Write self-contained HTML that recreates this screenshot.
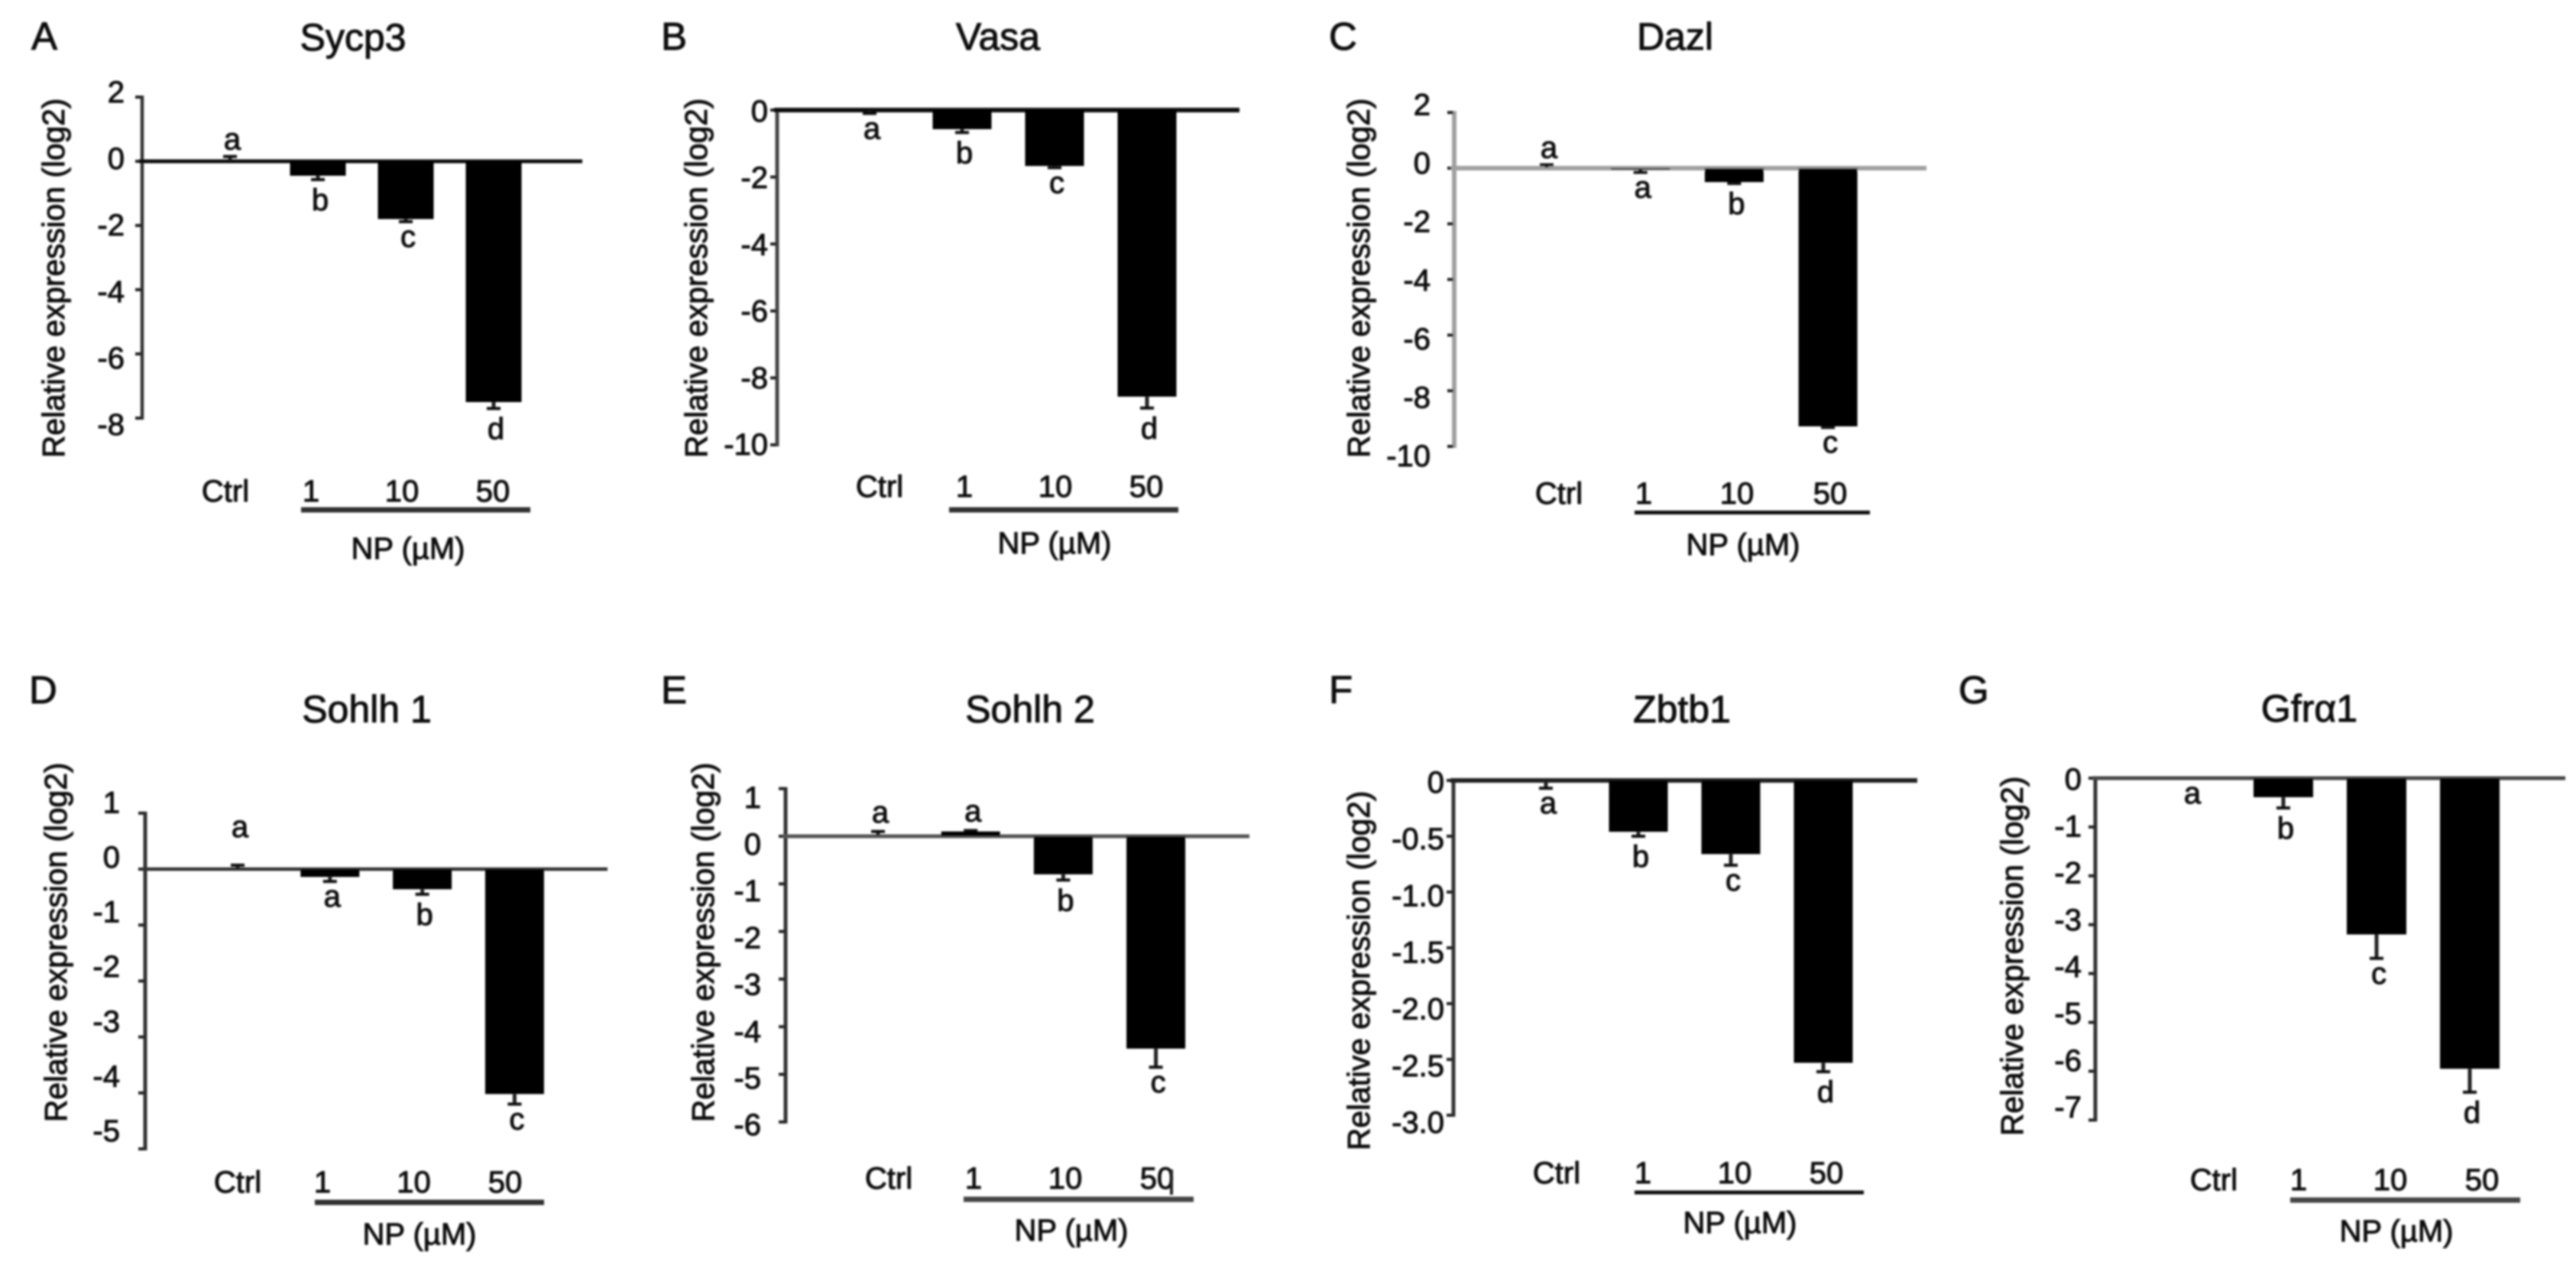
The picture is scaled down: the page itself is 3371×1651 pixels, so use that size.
<!DOCTYPE html>
<html lang="en">
<head>
<meta charset="utf-8">
<title>Relative expression of germ cell genes after NP treatment</title>
<style>
html,body{margin:0;padding:0;background:#fff;width:3371px;height:1651px;overflow:hidden}
svg{display:block}
text{font-family:"Liberation Sans","Noto Sans CJK SC",sans-serif;fill:#111;stroke:#111;stroke-width:1px}
</style>
</head>
<body>
<svg id="figure" xmlns="http://www.w3.org/2000/svg" width="3371" height="1651" viewBox="0 0 3371 1651">
<defs>
<filter id="soft" filterUnits="userSpaceOnUse" x="0" y="0" width="3371" height="1651"><feGaussianBlur stdDeviation="1.2"/></filter>
</defs>
<rect x="0" y="0" width="3371" height="1651" fill="#fff"/>
<g id="root" filter="url(#soft)"></g>
</svg>
<script>
const categories = ['Ctrl', '1', '10', '50'];

const sycp3Means = [0.02, -0.45, -1.8, -7.5];
const sycp3Errors = [0.13, 0.12, 0.08, 0.2];
const sycp3Letters = ['a', 'b', 'c', 'd'];
const sycp3Ticks = [2, 0, -2, -4, -6, -8];
const sycp3TickLabels = ['2', '0', '-2', '-4', '-6', '-8'];

const vasaMeans = [-0.02, -0.57, -1.67, -8.56];
const vasaErrors = [0.08, 0.1, 0.05, 0.34];
const vasaLetters = ['a', 'b', 'c', 'd'];
const vasaTicks = [0, -2, -4, -6, -8, -10];
const vasaTickLabels = ['0', '-2', '-4', '-6', '-8', '-10'];

const dazlMeans = [0.02, -0.05, -0.5, -9.28];
const dazlErrors = [0.1, 0.1, 0.05, 0.04];
const dazlLetters = ['a', 'a', 'b', 'c'];
const dazlTicks = [2, 0, -2, -4, -6, -8, -10];
const dazlTickLabels = ['2', '0', '-2', '-4', '-6', '-8', '-10'];

const sohlh1Means = [0.01, -0.14, -0.36, -4.02];
const sohlh1Errors = [0.06, 0.08, 0.09, 0.18];
const sohlh1Letters = ['a', 'a', 'b', 'c'];
const sohlh1Ticks = [1, 0, -1, -2, -3, -4, -5];
const sohlh1TickLabels = ['1', '0', '-1', '-2', '-3', '-4', '-5'];

const sohlh2Means = [0.02, 0.1, -0.8, -4.46];
const sohlh2Errors = [0.08, 0.02, 0.12, 0.39];
const sohlh2Letters = ['a', 'a', 'b', 'c'];
const sohlh2Ticks = [1, 0, -1, -2, -3, -4, -5, -6];
const sohlh2TickLabels = ['1', '0', '-1', '-2', '-3', '-4', '-5', '-6'];

const zbtb1Means = [-0.01, -0.46, -0.66, -2.53];
const zbtb1Errors = [0.06, 0.04, 0.1, 0.08];
const zbtb1Letters = ['a', 'b', 'c', 'd'];
const zbtb1Ticks = [0, -0.5, -1, -1.5, -2, -2.5, -3];
const zbtb1TickLabels = ['0', '-0.5', '-1.0', '-1.5', '-2.0', '-2.5', '-3.0'];

const gfra1Means = [0, -0.39, -3.2, -5.95];
const gfra1Errors = [0, 0.22, 0.49, 0.48];
const gfra1Letters = ['a', 'b', 'c', 'd'];
const gfra1Ticks = [0, -1, -2, -3, -4, -5, -6, -7];
const gfra1TickLabels = ['0', '-1', '-2', '-3', '-4', '-5', '-6', '-7'];

const panels = [
  {id:'a', tag:'A', tagX:41, tagY:65, title:'Sycp3', titleX:462, titleY:66,
   means:sycp3Means, errors:sycp3Errors, letters:sycp3Letters, ticks:sycp3Ticks, tickLabels:sycp3TickLabels,
   axisX:186, zeroY:211, unit:42, zeroEnd:762, zeroH:5, zeroC:'#111', axisW:4.5, axisC:'#333',
   barX0:301, barStep:115, barW:73, lblZero:207, lblUnit:43.5, lblRight:163,
   yTitleX:84, yTitleY:599, yTitleS:40.7,
   ctrlX:295, doseX:407, doseStep:119, catY:656, lineX1:394, lineX2:694, lineY:667, lineH:7, lineC:'#333',
   npX:534, npY:731, lift:9},
  {id:'b', tag:'B', tagX:865, tagY:65, title:'Vasa', titleX:1306, titleY:65,
   means:vasaMeans, errors:vasaErrors, letters:vasaLetters, ticks:vasaTicks, tickLabels:vasaTickLabels,
   axisX:1017, zeroY:144, unit:43.8, zeroEnd:1622, zeroH:6, zeroC:'#111', axisW:5, axisC:'#444',
   barX0:1138, barStep:121, barW:77, lblZero:145, lblUnit:43.6, lblRight:1005,
   yTitleX:925, yTitleY:599, yTitleS:40.7,
   ctrlX:1151, doseX:1262, doseStep:119, catY:650, lineX1:1242, lineX2:1542, lineY:667, lineH:7, lineC:'#333',
   npX:1380, npY:724, lift:9},
  {id:'c', tag:'C', tagX:1739, tagY:65, title:'Dazl', titleX:2192, titleY:65,
   means:dazlMeans, errors:dazlErrors, letters:dazlLetters, ticks:dazlTicks, tickLabels:dazlTickLabels,
   axisX:1903, zeroY:220, unit:36.4, zeroEnd:2521, zeroH:6, zeroC:'#a0a0a0', axisW:6, axisC:'#a0a0a0',
   barX0:2024, barStep:122.7, barW:77, lblZero:213, lblUnit:38.3, lblRight:1872,
   yTitleX:1792, yTitleY:599, yTitleS:40.7,
   ctrlX:2040, doseX:2151, doseStep:122, catY:659, lineX1:2139, lineX2:2447, lineY:670.5, lineH:5, lineC:'#111',
   npX:2281, npY:726, lift:9},
  {id:'d', tag:'D', tagX:38, tagY:920, title:'Sohlh 1', titleX:480, titleY:945,
   means:sohlh1Means, errors:sohlh1Errors, letters:sohlh1Letters, ticks:sohlh1Ticks, tickLabels:sohlh1TickLabels,
   axisX:190, zeroY:1137, unit:73.2, zeroEnd:795, zeroH:4.5, zeroC:'#333', axisW:5, axisC:'#333',
   barX0:311, barStep:120.8, barW:77, lblZero:1121, lblUnit:71.6, lblRight:157,
   yTitleX:87, yTitleY:1468, yTitleS:40.7,
   ctrlX:311, doseX:422, doseStep:119.5, catY:1560, lineX1:412, lineX2:712, lineY:1573, lineH:7, lineC:'#333',
   npX:549, npY:1628, lift:37},
  {id:'e', tag:'E', tagX:865, tagY:920, title:'Sohlh 2', titleX:1348, titleY:945,
   means:sohlh2Means, errors:sohlh2Errors, letters:sohlh2Letters, ticks:sohlh2Ticks, tickLabels:sohlh2TickLabels,
   axisX:1028, zeroY:1094, unit:62.3, zeroEnd:1635, zeroH:5, zeroC:'#555', axisW:5, axisC:'#333',
   barX0:1149, barStep:121.2, barW:77, lblZero:1104, lblUnit:61.2, lblRight:996,
   yTitleX:934, yTitleY:1468, yTitleS:40.7,
   ctrlX:1163, doseX:1274, doseStep:120, catY:1555, lineX1:1261, lineX2:1562, lineY:1569, lineH:7, lineC:'#444',
   npX:1402, npY:1623, lift:12},
  {id:'f', tag:'F', tagX:1739, tagY:920, title:'Zbtb1', titleX:2201, titleY:945,
   means:zbtb1Means, errors:zbtb1Errors, letters:zbtb1Letters, ticks:zbtb1Ticks, tickLabels:zbtb1TickLabels,
   axisX:1902, zeroY:1021, unit:146, zeroEnd:2509, zeroH:6, zeroC:'#222', axisW:5, axisC:'#333',
   barX0:2023, barStep:121, barW:77, lblZero:1023, lblUnit:148.3, lblRight:1890,
   yTitleX:1792, yTitleY:1505, yTitleS:40.7,
   ctrlX:2037, doseX:2150, doseStep:120, catY:1548, lineX1:2139, lineX2:2439, lineY:1560, lineH:5, lineC:'#111',
   npX:2277, npY:1613, lift:9},
  {id:'g', tag:'G', tagX:2563, tagY:920, title:'Gfr\u03b11', titleX:3022, titleY:944,
   means:gfra1Means, errors:gfra1Errors, letters:gfra1Letters, ticks:gfra1Ticks, tickLabels:gfra1TickLabels,
   axisX:2742, zeroY:1018, unit:63.9, zeroEnd:3357, zeroH:5, zeroC:'#444', axisW:5, axisC:'#333',
   barX0:2866, barStep:122, barW:78, lblZero:1019, lblUnit:61.3, lblRight:2724,
   yTitleX:2647, yTitleY:1486, yTitleS:40.7,
   ctrlX:2897, doseX:3008, doseStep:120, catY:1557, lineX1:2997, lineX2:3298, lineY:1570, lineH:7, lineC:'#444',
   npX:3136, npY:1624, lift:9}
];

const NS = 'http://www.w3.org/2000/svg';
const root = document.getElementById('root');

function rect(parent, x, y, w, h, fill) {
  const r = document.createElementNS(NS, 'rect');
  r.setAttribute('x', x);
  r.setAttribute('y', y);
  r.setAttribute('width', w);
  r.setAttribute('height', h);
  r.setAttribute('fill', fill);
  parent.appendChild(r);
  return r;
}

function label(parent, str, x, y, size, anchor) {
  const t = document.createElementNS(NS, 'text');
  t.setAttribute('x', x);
  t.setAttribute('y', y);
  t.setAttribute('font-size', size);
  t.setAttribute('text-anchor', anchor);
  t.textContent = str;
  parent.appendChild(t);
  return t;
}

function drawPanel(p) {
  const g = document.createElementNS(NS, 'g');
  
  
  root.appendChild(g);

  const yScale = function (v) { return p.zeroY - v * p.unit; };
  const xScale = function (i) { return p.barX0 + i * p.barStep; };
  const labelY = function (v) { return p.lblZero - v * p.lblUnit + 14; };
  const catX = function (i) { return i === 0 ? p.ctrlX : p.doseX + (i - 1) * p.doseStep; };

  const tag = label(g, p.tag, p.tagX, p.tagY, 51, 'start');
  
  

  const title = label(g, p.title, p.titleX, p.titleY, 50, 'middle');
  
  

  const yTitle = label(g, 'Relative expression (log2)', 0, 0, p.yTitleS, 'start');
  yTitle.setAttribute('transform', 'translate(' + p.yTitleX + ' ' + p.yTitleY + ') rotate(-90)');
  
  

  const tickMax = Math.max.apply(null, p.ticks);
  const tickMin = Math.min.apply(null, p.ticks);
  const axis = rect(g, p.axisX - p.axisW / 2, yScale(tickMax) - 2, p.axisW, yScale(tickMin) - yScale(tickMax) + 4, p.axisC);
  
  

  p.ticks.forEach(function (v, i) {
    const tick = rect(g, p.axisX - 9, yScale(v) - 2, 8, 4, '#222');
    
    
    const tl = label(g, p.tickLabels[i], p.lblRight, labelY(v), 40, 'end');
    
    
  });

  const zero = rect(g, p.axisX - 4, p.zeroY - p.zeroH / 2, p.zeroEnd - p.axisX + 4, p.zeroH, p.zeroC);
  
  

  p.means.forEach(function (m, i) {
    const cx = xScale(i);
    const top = Math.min(yScale(m), yScale(0));
    const h = Math.abs(yScale(m) - yScale(0));
    if (i > 0) {
      const bar = rect(g, cx - p.barW / 2, top, p.barW, h, '#000');
      
      
    }
    const dir = m >= 0 ? 1 : -1;
    const end = yScale(m + dir * p.errors[i]);
    const base = yScale(m);
    if (p.errors[i] > 0) {
      const stem = rect(g, cx - 2.5, Math.min(base, end), 5, Math.abs(end - base), '#222');
      
      
      const cap = rect(g, cx - 9, end - 2, 18, 4, '#111');
      
      
    }
    const letter = p.letters[i];
    const tall = letter === 'b' || letter === 'd';
    const ly = m >= 0 && p.errors[i] > 0 ? end - p.lift : end + (tall ? 40 : 33);
    const sig = label(g, letter, cx + 3, ly, 40, 'middle');
    
    
  });

  categories.forEach(function (c, i) {
    const cat = label(g, c, catX(i), p.catY, 40, 'middle');
    
    
  });

  const bracket = rect(g, p.lineX1, p.lineY - p.lineH / 2, p.lineX2 - p.lineX1, p.lineH, p.lineC);
  
  

  const np = label(g, 'NP (\u00b5M)', p.npX, p.npY, 40, 'middle');
  
  
}

panels.forEach(drawPanel);

const stray = rect(root, 1531, 1530, 4, 33, '#222');


</script>
</body>
</html>
